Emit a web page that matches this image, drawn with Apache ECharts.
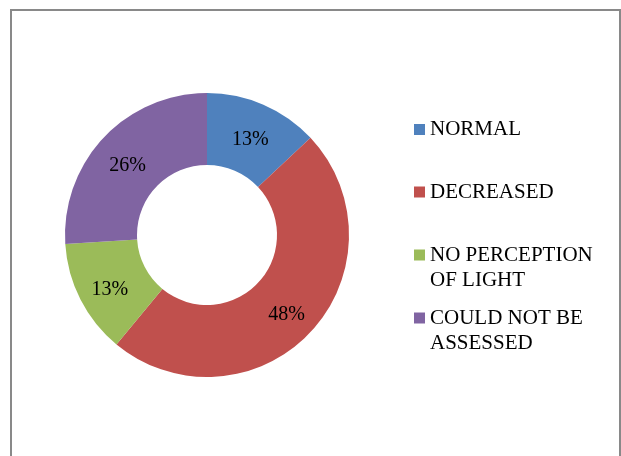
<!DOCTYPE html>
<html>
<head>
<meta charset="utf-8">
<script src="https://cdn.jsdelivr.net/npm/echarts@6/dist/echarts.min.js"></script>
<style>
html,body{margin:0;padding:0;background:#fff;}
#c{width:621px;height:456px;}
</style>
</head>
<body>
<div id="c"></div>
<script>
const categories = ['NORMAL', 'DECREASED', 'NO PERCEPTION OF LIGHT', 'COULD NOT BE ASSESSED'];
const legendLabels = ['NORMAL', 'DECREASED', 'NO PERCEPTION\nOF LIGHT', 'COULD NOT BE\nASSESSED'];
const values = [13, 48, 13, 26];
const colors = ['#4F81BD', '#C0504D', '#9BBB59', '#8064A2'];

const FONT = '"Liberation Serif", "Times New Roman", serif';
const iconCenters = [129.5, 192, 255, 318];

const chart = echarts.init(document.getElementById('c'), null, {renderer: 'canvas'});

const legends = categories.map((name, i) => {
  const twoLine = legendLabels[i].indexOf('\n') >= 0;
  // two-line items get an empty leading line so the icon sits level with the first text line
  const text = twoLine ? '\n' + legendLabels[i] : legendLabels[i];
  const half = twoLine ? 37.5 : 12.5;
  return {
    orient: 'vertical',
    left: 414,
    top: iconCenters[i] - half,
    padding: 0,
    itemWidth: 11,
    itemHeight: 11,
    icon: 'rect',
    selectedMode: false,
    data: [name],
    formatter: () => text,
    textStyle: {
      fontFamily: FONT,
      fontSize: 21,
      lineHeight: 25,
      color: '#000'
    }
  };
});

chart.setOption({
  animation: false,
  backgroundColor: '#fff',
  color: colors,
  graphic: [{
    type: 'rect',
    shape: {x: 11, y: 10, width: 609, height: 470},
    style: {fill: 'none', stroke: '#898989', lineWidth: 2},
    silent: true
  }],
  legend: legends,
  series: [{
    type: 'pie',
    center: [207, 235],
    radius: [70, 142],
    startAngle: 90,
    clockwise: true,
    percentPrecision: 0,
    avoidLabelOverlap: false,
    label: {
      show: true,
      position: 'inside',
      formatter: '{d}%',
      fontFamily: FONT,
      fontSize: 20,
      color: '#000',
      offset: [0, 5]
    },
    labelLine: {show: false},
    itemStyle: {borderWidth: 0},
    emphasis: {disabled: true},
    data: categories.map((c, i) => ({name: c, value: values[i]}))
  }]
});
</script>
</body>
</html>
